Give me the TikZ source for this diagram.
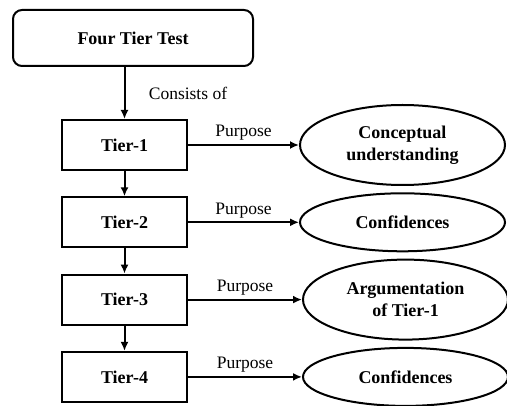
\documentclass[tikz,border=0pt]{standalone}
\usepackage{fontspec}
\setmainfont{Liberation Serif}
\usetikzlibrary{arrows.meta,positioning,shapes.geometric}

\begin{document}
\begin{tikzpicture}[x=1pt,y=1pt,>={Latex[length=9pt,width=8pt]},node distance=77.3pt,auto,
    every edge/.append style={line width=2pt},
    test/.style={draw,line width=2pt,rounded corners=9pt,minimum width=240pt,minimum height=56pt,font=\fontsize{18}{21}\selectfont\bfseries},
    tier/.style={draw,line width=2pt,minimum width=125pt,minimum height=50pt,font=\fontsize{18}{21}\selectfont\bfseries},
    aim/.style={draw,line width=2pt,ellipse,inner sep=0pt,minimum width=205pt,minimum height=58pt,align=center,font=\fontsize{18}{22}\selectfont\bfseries},
    lbl/.style={font=\fontsize{17.5}{20}\selectfont}]
    \useasboundingbox (0,0) rectangle (507,-406);
    \node[test] (test) at (133,-38) {Four Tier Test};
    \node[tier] (t1) at (124.5,-145) {Tier-1};
    \node[tier] (t2) [below of=t1] {Tier-2};
    \node[tier] (t3) [below of=t2] {Tier-3};
    \node[tier] (t4) [below of=t3] {Tier-4};
    \node[aim,minimum height=80pt] (a1) [right of=t1,node distance=278pt] {Conceptual\\understanding};
    \node[aim] (a2) [right of=t2,node distance=278pt] {Confidences};
    \node[aim,minimum height=80pt] (a3) [right of=t3,node distance=281pt] {Argumentation\\of Tier-1};
    \node[aim] (a4) [right of=t4,node distance=281pt] {Confidences};

    \path[->]
        (test.south -| t1.north) edge node[lbl,right=20pt] {Consists of} (t1.north)
        (t1) edge (t2)
             edge node[lbl] {Purpose} (a1)
        (t2) edge (t3)
             edge node[lbl] {Purpose} (a2)
        (t3) edge (t4)
             edge node[lbl] {Purpose} (a3)
        (t4) edge node[lbl] {Purpose} (a4)
        ;
\end{tikzpicture}
\end{document}
